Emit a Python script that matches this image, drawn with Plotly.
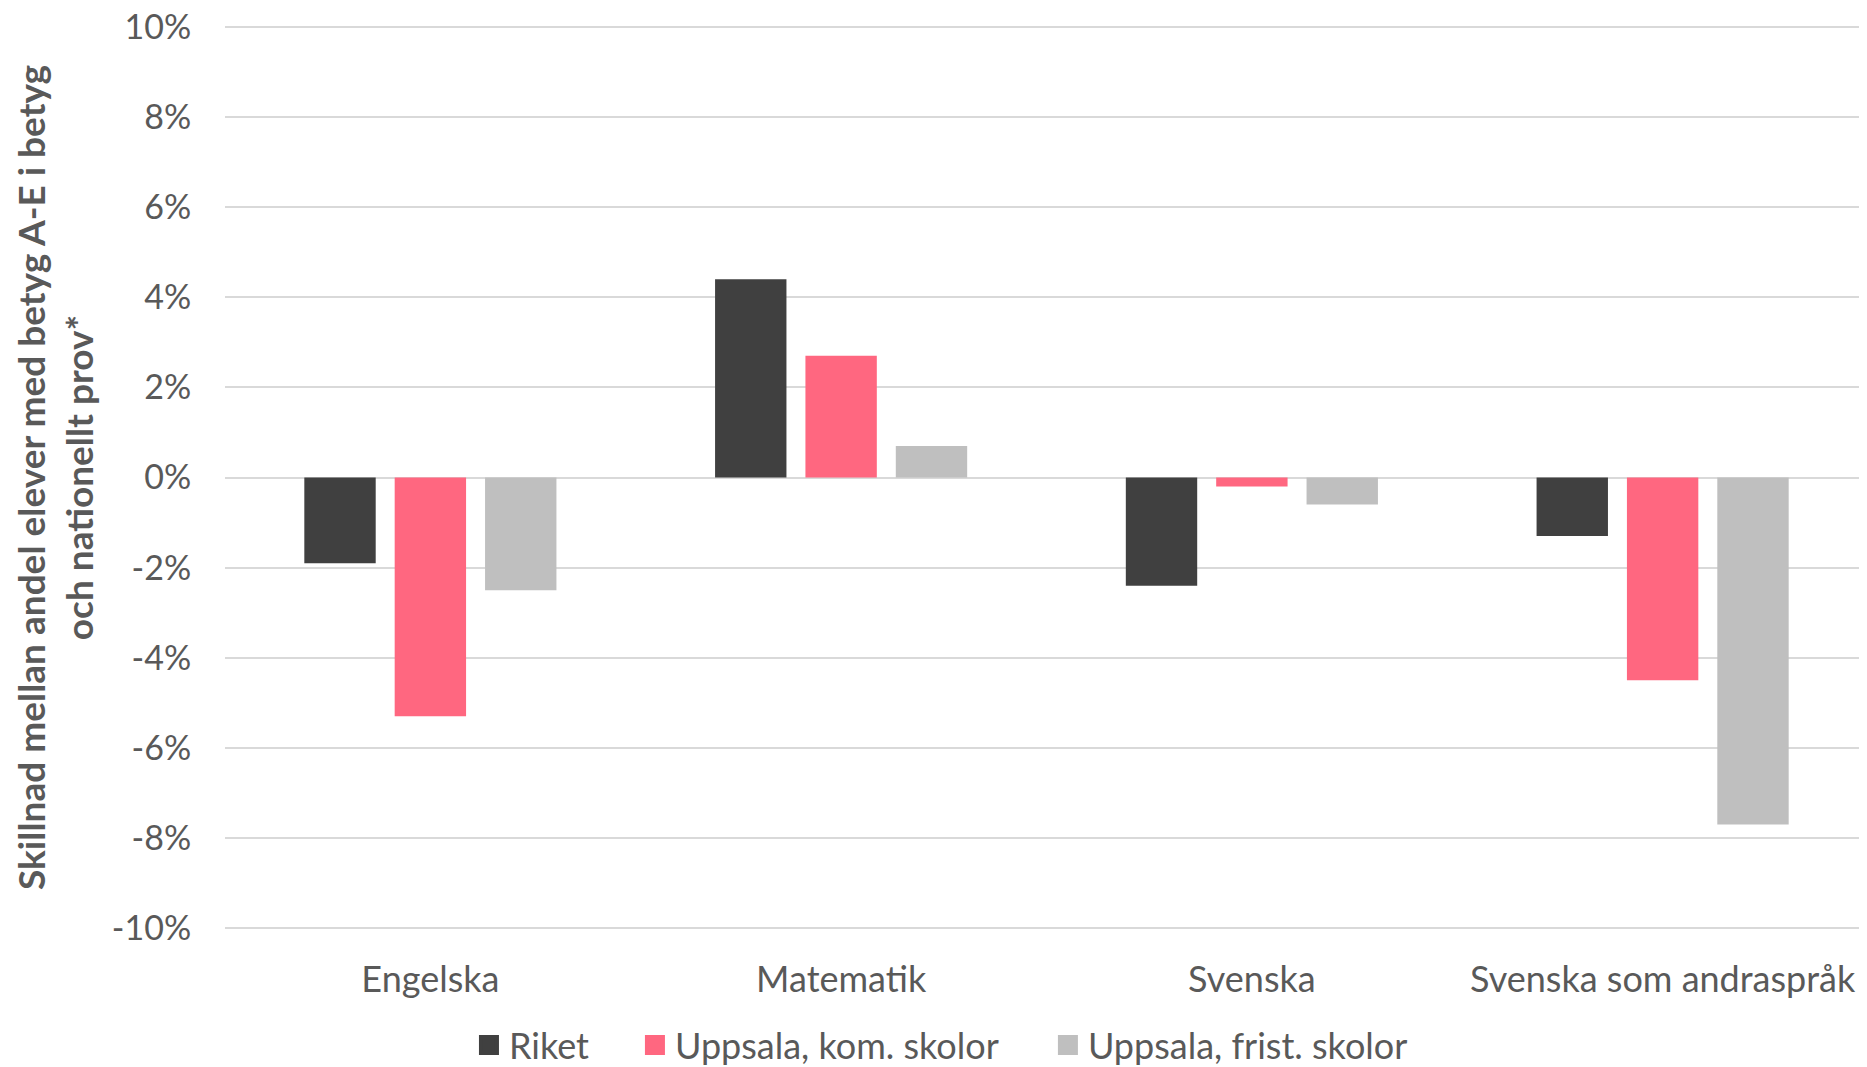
import plotly.graph_objects as go

# Skillnad mellan betyg och nationellt prov, per ämne
amnen = ["Engelska", "Matematik", "Svenska", "Svenska som andraspråk"]
riket = [-0.019, 0.044, -0.024, -0.013]
uppsala_kom = [-0.053, 0.027, -0.002, -0.045]
uppsala_frist = [-0.025, 0.007, -0.006, -0.077]

y_ticks = [-0.10, -0.08, -0.06, -0.04, -0.02, 0.0, 0.02, 0.04, 0.06, 0.08, 0.10]
y_ticktext = ["-10%", "-8%", "-6%", "-4%", "-2%", "0%", "2%", "4%", "6%", "8%", "10%"]

serier = [
    ("Riket", riket, "#404040"),
    ("Uppsala, kom. skolor", uppsala_kom, "#ff6780"),
    ("Uppsala, frist. skolor", uppsala_frist, "#bfbfbf"),
]
# var varje legendpost börjar (andel av bredden)
legend_x = [0.2469, 0.3358, 0.5570]

font = "Source Sans Pro, Lato, sans-serif"
textfarg = "#595959"

fig = go.Figure()
for namn, varden, farg in serier:
    fig.add_bar(x=amnen, y=varden, name=namn, showlegend=False,
                marker=dict(color=farg, line=dict(width=0)))

legender = {}
for i, (namn, varden, farg) in enumerate(serier):
    lg = "legend" if i == 0 else f"legend{i + 1}"
    fig.add_scatter(x=[None], y=[None], name=namn, mode="markers", legend=lg,
                    marker=dict(symbol="square", size=16, color=farg,
                                line=dict(color=farg, width=4)))
    legender[lg] = dict(orientation="h", xref="container", yref="container",
                        x=legend_x[i], xanchor="left", y=-0.003, yanchor="bottom",
                        font=dict(size=36, color=textfarg), itemsizing="trace",
                        bgcolor="rgba(0,0,0,0)")

fig.update_layout(
    width=1867, height=1067,
    barmode="group", bargap=0.34, bargroupgap=0.21,
    plot_bgcolor="white", paper_bgcolor="white",
    font=dict(family=font, size=34, color=textfarg),
    margin=dict(l=217, r=7, t=17, b=145),
    **legender,
)
fig.update_yaxes(
    range=[-0.1004, 0.1004], tickvals=y_ticks, ticktext=y_ticktext,
    showgrid=True, gridcolor="#d9d9d9", gridwidth=1.5,
    zeroline=True, zerolinecolor="#d9d9d9", zerolinewidth=1.5,
    showline=False, ticks="outside", ticklen=26, tickcolor="rgba(0,0,0,0)",
    automargin=False, tickfont=dict(size=34), ticklabeloverflow="allow",
    title=dict(text="<b>Skillnad mellan andel elever med betyg A-E i betyg<br>och nationellt prov*</b>",
               font=dict(size=37, color=textfarg), standoff=18),
)
fig.update_xaxes(showline=False, ticks="outside", ticklen=18,
                 tickcolor="rgba(0,0,0,0)", tickfont=dict(size=36),
                 automargin=False)

fig.write_html("out.html")
